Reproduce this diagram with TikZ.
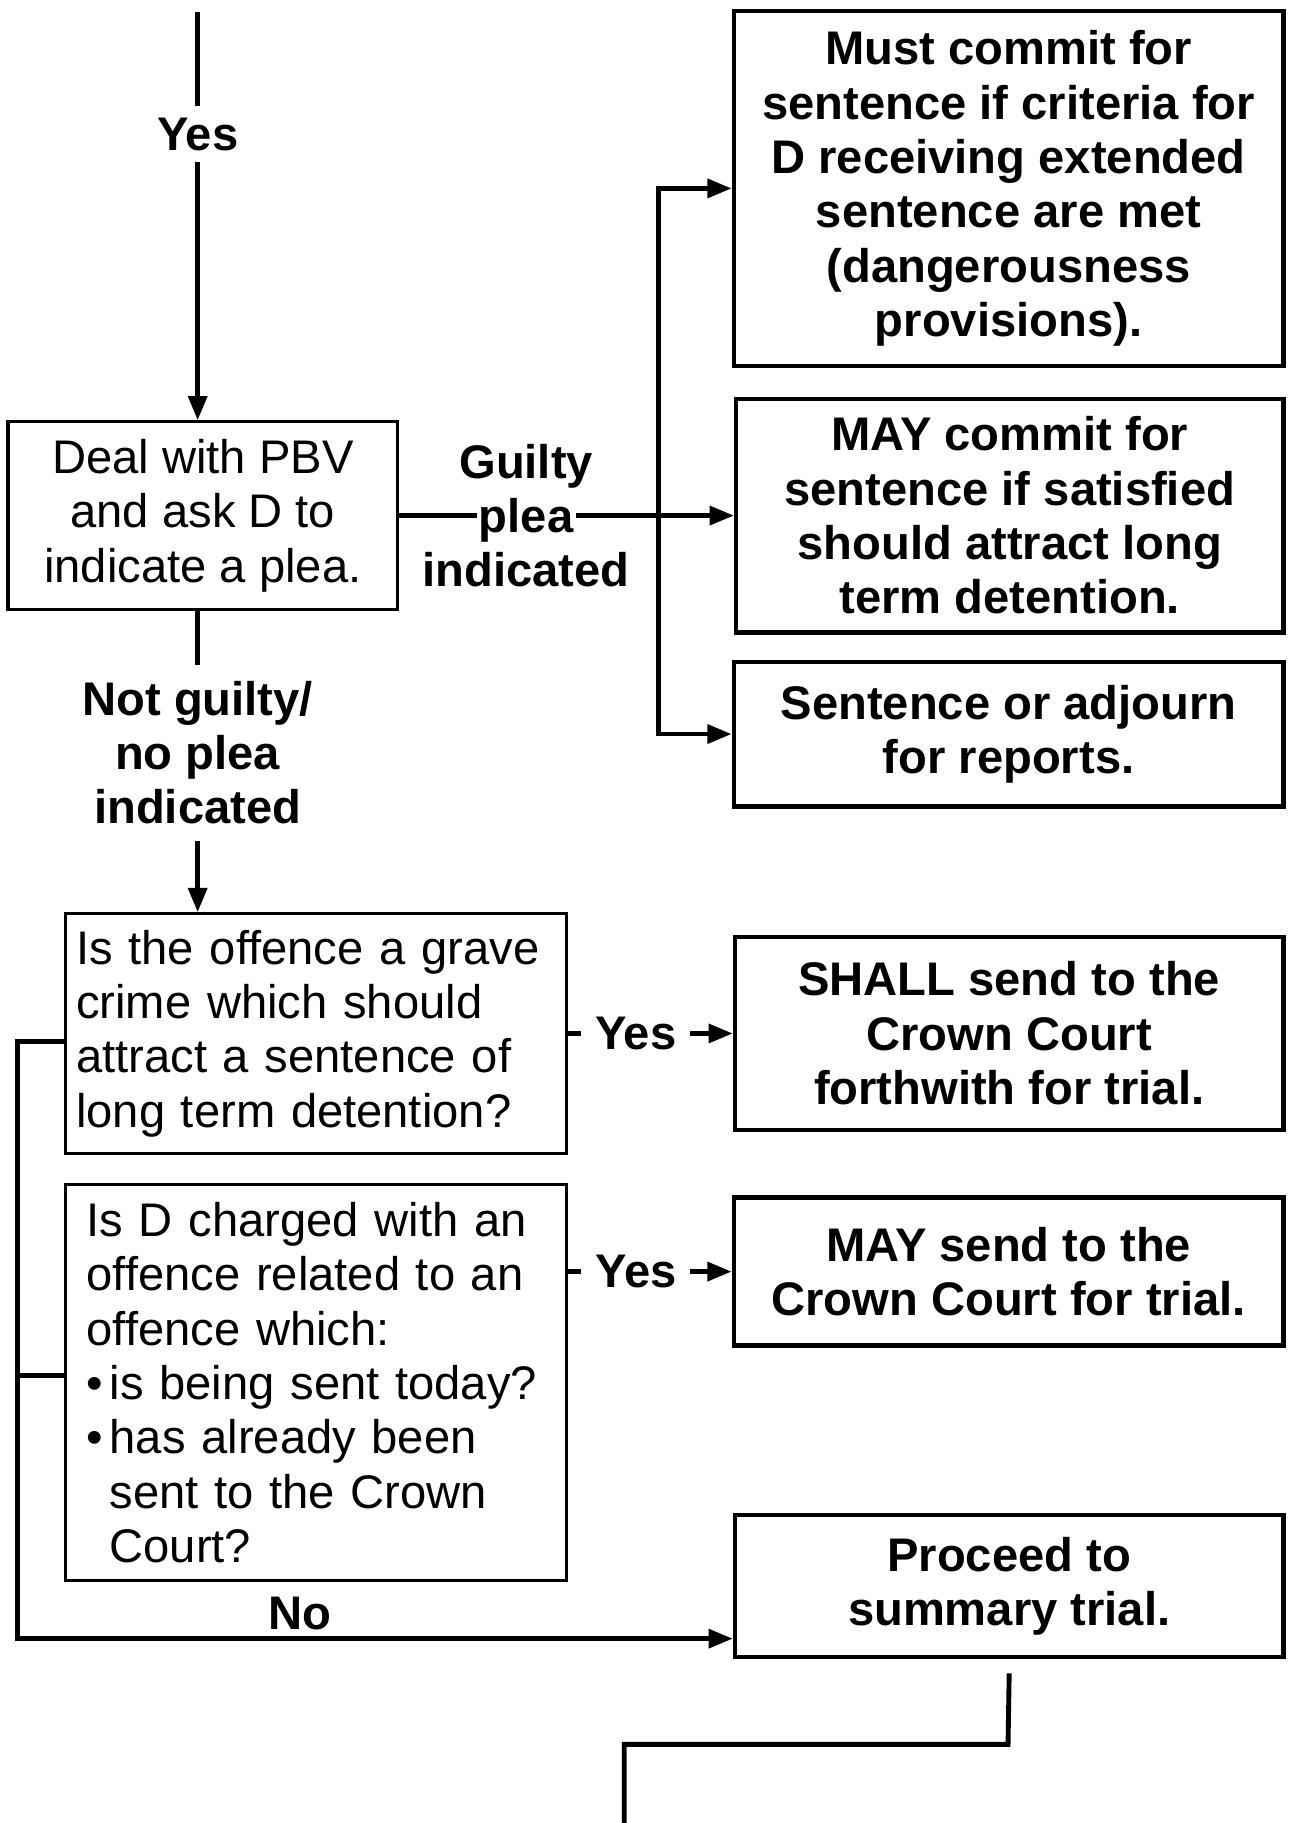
\documentclass[tikz,border=0pt]{standalone}
\usepackage{fontspec}
\setmainfont{Liberation Sans}
\usetikzlibrary{arrows.meta}
\begin{document}
\begin{tikzpicture}[x=0.01cm,y=-0.01cm,
  plainbox/.style={draw, line width=0.75pt, inner sep=0pt, font=\fontsize{11.6}{13.37}\selectfont},
  boldbox/.style={draw, line width=1.1pt, inner sep=0pt, align=center, font=\fontsize{11.6}{13.37}\selectfont\bfseries},
  conn/.style={line width=1.2pt},
  tip/.tip={Triangle[length=0.21cm,width=0.16cm]},
  arr/.style={conn, -tip},
  lbl/.style={font=\fontsize{11.6}{13.37}\selectfont\bfseries, fill=white, align=center, inner xsep=0.12cm, inner ysep=0.1cm},
  plainlbl/.style={font=\fontsize{11.6}{13.37}\selectfont\bfseries, align=center, inner sep=0.05cm}
]
\useasboundingbox (0,0) rectangle (1120,1577);

% boxes
\node[plainbox, align=center, minimum width=3.37cm, minimum height=1.62cm] (deal) at (175.5,446)
  {Deal with PBV\\and ask D to\\indicate a plea.};
\node[boldbox, minimum width=4.75cm, minimum height=3.07cm] (m1) at (872.5,163)
  {Must commit for\\sentence if criteria for\\D receiving extended\\sentence are met\\(dangerousness\\provisions).};
\node[boldbox, minimum width=4.73cm, minimum height=2.02cm] (m2) at (873.5,446)
  {MAY commit for\\sentence if satisfied\\should attract long\\term detention.};
\node[boldbox, minimum width=4.75cm, minimum height=1.25cm] (m3) at (872.5,635)
  {Sentence or adjourn\\for reports.};
\node[plainbox, align=left, text width=4.15cm, inner xsep=0.09cm, minimum height=2.07cm] (q1) at (273.5,894)
  {Is the offence a grave\\crime which should\\attract a sentence of\\long term detention?};
\node[boldbox, minimum width=4.74cm, minimum height=1.67cm] (s1) at (873,894)
  {SHALL send to the\\Crown Court\\forthwith for trial.};
\node[plainbox, align=left, text width=3.97cm, inner xsep=0.18cm, minimum height=3.42cm] (q2) at (273.5,1196)
  {Is D charged with an\\offence related to an\\offence which:\\\makebox[0.2cm][l]{•}is being sent today?\\\makebox[0.2cm][l]{•}has already been\\\hspace*{0.2cm}sent to the Crown\\\hspace*{0.2cm}Court?};
\node[boldbox, minimum width=4.75cm, minimum height=1.28cm] (s2) at (872.5,1100)
  {MAY send to the\\Crown Court for trial.};
\node[boldbox, minimum width=4.74cm, minimum height=1.23cm] (p8) at (873,1372)
  {Proceed to\\summary trial.};

% helper coordinates
\coordinate (top) at (171,10);
\coordinate (split) at (570,0);
\coordinate (lx) at (15,0);
\coordinate (nopt) at ([yshift=-0.455cm]p8.west);
\coordinate (b1) at (872,1509);
\coordinate (b2) at (540,1577);

% connectors
\draw[arr] (top) -- node[lbl, pos=0.3] {Yes} (top |- deal.north);

\setlength{\fboxsep}{0.6pt}
\draw[arr] (deal.east) -- node[plainlbl, inner sep=0pt, pos=0.379]
  {Guilty\\\colorbox{white}{plea}\\indicated} (deal.east -| m2.west);
\draw[conn, tip-tip] (m1.west) -- (m1.west -| split) -- (m3.west -| split) -- (m3.west);

\draw[arr] (top |- deal.south) -- node[lbl, pos=0.471, inner ysep=0.14cm]
  {Not guilty/\\no plea\\indicated} (top |- q1.north);

\draw[arr] (q1.east) -- node[lbl, pos=0.41] {Yes} (q1.east -| s1.west);
\draw[arr] (s2.west -| q2.east) -- node[lbl, pos=0.414] {Yes} (s2.west);

\draw[arr] ([yshift=-0.07cm]q1.west) -- ([yshift=-0.07cm]q1.west -| lx) -- (lx |- nopt)
  -- node[plainlbl, pos=0.395, anchor=south] {No} (nopt);
\draw[conn] ([yshift=0.06cm]q2.west) -- ([yshift=0.06cm]q2.west -| lx);

\draw[conn] ([yshift=-0.12cm]p8.south) -- (b1) -- (b1 -| b2) -- (b2);
\end{tikzpicture}
\end{document}
